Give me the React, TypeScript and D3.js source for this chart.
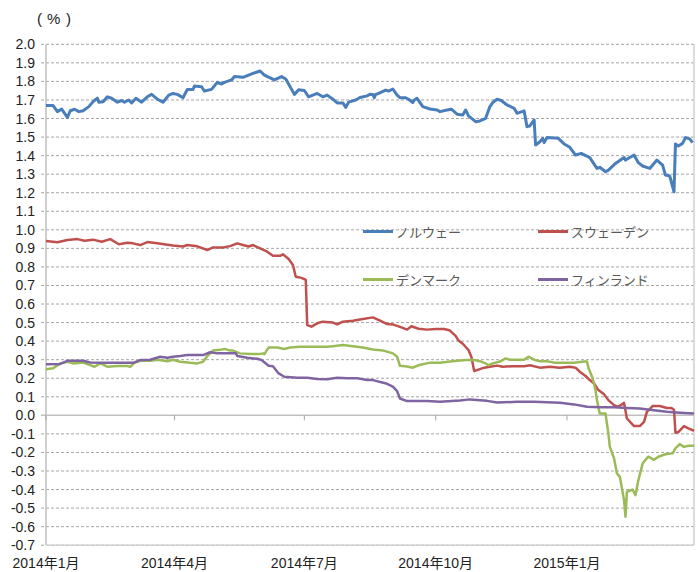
import React from "react";
import * as d3 from "d3";

// Day offsets from 2014-01-01 and yield values (%)
const norway: [number, number][] = [
  [0,1.67],[5,1.67],[8,1.637],[11,1.651],[15,1.606],[17,1.642],[20,1.65],[23,1.637],[26,1.642],[30,1.664],
  [33,1.691],[36,1.71],[37,1.688],[40,1.69],[43,1.717],[46,1.709],[50,1.688],[53,1.697],[55,1.688],[58,1.70],
  [60,1.684],[63,1.709],[67,1.688],[71,1.717],[74,1.73],[78,1.704],[82,1.688],[86,1.726],[89,1.735],[92,1.73],
  [96,1.712],[99,1.757],[103,1.757],[104,1.775],[109,1.771],[111,1.748],[116,1.757],[120,1.795],[123,1.786],[125,1.795],
  [130,1.808],[132,1.826],[138,1.822],[142,1.834],[145,1.843],[150,1.856],[153,1.834],[160,1.808],[165,1.826],[168,1.813],
  [174,1.73],[177,1.755],[181,1.751],[184,1.717],[190,1.735],[194,1.717],[197,1.726],[201,1.704],[204,1.684],[208,1.684],
  [210,1.66],[212,1.688],[217,1.70],[220,1.713],[225,1.722],[227,1.731],[229,1.73],[230,1.712],[231,1.73],[233,1.735],
  [238,1.753],[240,1.748],[243,1.759],[246,1.726],[248,1.712],[252,1.712],[254,1.704],[257,1.686],[258,1.70],[260,1.709],
  [264,1.664],[269,1.651],[274,1.646],[276,1.637],[281,1.646],[284,1.65],[288,1.623],[292,1.619],[294,1.646],[296,1.614],
  [301,1.583],[304,1.587],[308,1.601],[311,1.664],[313,1.686],[316,1.704],[319,1.697],[323,1.673],[328,1.655],[330,1.628],
  [335,1.641],[337,1.556],[339,1.56],[342,1.592],[343,1.457],[346,1.475],[348,1.493],[349,1.47],[351,1.498],[359,1.493],
  [363,1.463],[367,1.445],[371,1.403],[375,1.412],[381,1.389],[386,1.331],[388,1.337],[392,1.313],[394,1.322],[399,1.358],
  [405,1.39],[406,1.376],[412,1.403],[415,1.362],[418,1.344],[423,1.331],[428,1.376],[432,1.349],[434,1.295],[437,1.29],
  [440,1.205],[441,1.462],[443,1.452],[446,1.466],[448,1.497],[451,1.49],[453,1.47],
];

const sweden: [number, number][] = [
  [0,0.94],[8,0.933],[15,0.945],[22,0.95],[27,0.941],[33,0.947],[39,0.936],[45,0.95],[51,0.922],[57,0.93],
  [61,0.927],[66,0.918],[71,0.934],[78,0.928],[85,0.92],[89,0.915],[96,0.91],[99,0.918],[106,0.911],[113,0.891],
  [117,0.905],[124,0.905],[129,0.912],[134,0.927],[138,0.918],[142,0.91],[145,0.918],[150,0.90],[155,0.882],[159,0.86],
  [164,0.86],[166,0.868],[170,0.843],[173,0.81],[175,0.747],[179,0.741],[182,0.73],[183,0.487],[186,0.478],[190,0.496],
  [194,0.505],[201,0.50],[204,0.49],[208,0.505],[215,0.51],[220,0.517],[229,0.528],[234,0.51],[239,0.492],[243,0.49],
  [249,0.474],[253,0.462],[256,0.48],[261,0.467],[267,0.462],[273,0.465],[279,0.465],[283,0.457],[287,0.428],[289,0.403],
  [292,0.386],[296,0.352],[298,0.316],[300,0.239],[302,0.244],[307,0.257],[311,0.262],[316,0.268],[320,0.262],[327,0.265],
  [335,0.265],[339,0.27],[346,0.257],[353,0.262],[360,0.257],[367,0.262],[371,0.257],[374,0.235],[378,0.212],[381,0.19],
  [384,0.172],[387,0.136],[391,0.113],[394,0.082],[398,0.055],[401,0.046],[405,0.067],[407,-0.017],[412,-0.058],[416,-0.058],
  [419,-0.035],[421,0.019],[425,0.05],[430,0.05],[435,0.04],[438,0.04],[440,0.03],[441,-0.094],[443,-0.09],[447,-0.058],
  [450,-0.07],[454,-0.083],
];

const denmark: [number, number][] = [
  [0,0.248],[5,0.254],[10,0.28],[15,0.289],[19,0.28],[26,0.285],[31,0.271],[34,0.262],[38,0.28],[43,0.262],
  [50,0.266],[57,0.266],[59,0.262],[62,0.283],[66,0.294],[73,0.294],[78,0.30],[85,0.292],[89,0.30],[94,0.289],
  [101,0.283],[106,0.28],[110,0.289],[113,0.32],[117,0.349],[122,0.353],[125,0.358],[129,0.349],[131,0.349],[136,0.334],
  [143,0.33],[149,0.33],[152,0.334],[153,0.33],[156,0.366],[162,0.366],[167,0.358],[171,0.366],[178,0.37],[189,0.37],
  [197,0.37],[201,0.373],[208,0.379],[215,0.373],[222,0.366],[229,0.355],[236,0.35],[243,0.334],[246,0.316],[248,0.267],
  [253,0.263],[257,0.257],[261,0.27],[269,0.284],[276,0.284],[283,0.29],[290,0.295],[295,0.298],[300,0.298],[304,0.292],
  [308,0.28],[310,0.27],[313,0.28],[318,0.29],[322,0.307],[325,0.30],[330,0.30],[335,0.30],[338,0.316],[342,0.30],
  [346,0.292],[351,0.292],[356,0.284],[363,0.284],[370,0.284],[377,0.29],[379,0.29],[380,0.256],[383,0.20],[385,0.136],
  [386,0.082],[388,0.01],[392,0.01],[394,-0.097],[395,-0.169],[398,-0.232],[400,-0.313],[402,-0.33],[405,-0.457],[406,-0.547],
  [407,-0.412],[411,-0.40],[413,-0.43],[415,-0.35],[418,-0.26],[420,-0.24],[422,-0.223],[426,-0.24],[429,-0.223],[434,-0.21],
  [439,-0.205],[441,-0.178],[444,-0.155],[447,-0.17],[450,-0.164],[454,-0.164],
];

const finland: [number, number][] = [
  [0,0.275],[10,0.277],[15,0.294],[26,0.294],[31,0.285],[38,0.283],[50,0.283],[61,0.283],[66,0.298],[73,0.30],
  [80,0.316],[85,0.31],[89,0.316],[94,0.32],[99,0.325],[110,0.325],[115,0.34],[120,0.334],[127,0.334],[133,0.334],
  [134,0.32],[141,0.31],[148,0.305],[151,0.298],[156,0.267],[159,0.265],[163,0.226],[167,0.208],[176,0.202],[183,0.202],
  [190,0.196],[197,0.195],[204,0.203],[211,0.20],[218,0.20],[225,0.19],[229,0.19],[239,0.17],[243,0.155],[246,0.13],
  [248,0.091],[253,0.077],[267,0.077],[276,0.073],[290,0.08],[297,0.086],[309,0.078],[316,0.069],[330,0.073],[342,0.073],
  [360,0.068],[370,0.059],[379,0.046],[388,0.044],[398,0.043],[407,0.04],[416,0.037],[426,0.028],[435,0.019],[444,0.014],
  [454,0.01],
];

const seriesNames = ["ノルウェー", "スウェーデン", "デンマーク", "フィンランド"];
const seriesColors = ["#4a7ebb", "#c0504d", "#9bbb59", "#8064a2"];
const xTickLabels = ["2014年1月", "2014年4月", "2014年7月", "2014年10月", "2015年1月"];
const xTickDates = ["2014-01-01", "2014-04-01", "2014-07-01", "2014-10-01", "2015-01-01"];
const yTicks = d3.range(-7, 21).map((v) => v / 10);

const W = 698, H = 572;
const left = 46, right = 694, top = 44.3, bottom = 545.2;
const start = new Date(2014, 0, 1);
const toDate = (d: number) => d3.timeDay.offset(start, d);
const parse = d3.timeParse("%Y-%m-%d");

export default function App() {
  const x = d3.scaleTime().domain([start, toDate(454)]).range([left, right]);
  const y = d3.scaleLinear().domain([-0.7, 2.0]).range([bottom, top]);
  const line = d3.line<[number, number]>().x((p) => x(toDate(p[0]))).y((p) => y(p[1]));
  const data = [norway, sweden, denmark, finland];
  const font = "'Liberation Sans', Arial, 'Noto Sans CJK JP', sans-serif";
  const legendPos = [
    [363, 231.5], [538, 231.5], [363, 279.5], [538, 279.5],
  ];
  return (
    <svg width={W} height={H} style={{ position: "absolute", left: 0, top: 0, background: "#fff" }} fontFamily={font}>
      <text y={24} fontSize={15} fill="#222">
        <tspan x={37}>(</tspan>
        <tspan x={47}>%</tspan>
        <tspan x={66}>)</tspan>
      </text>
      {yTicks.map((t) => (
        <g key={t}>
          {Math.abs(t) > 1e-9 && (
            <line x1={left - 5} x2={right} y1={y(t)} y2={y(t)} stroke="#a6a6a6" strokeWidth={1} strokeDasharray="3,2" />
          )}
          <text x={35} y={y(t) + 5} fontSize={14} textAnchor="end" fill="#222">{t.toFixed(1)}</text>
        </g>
      ))}
      <line x1={left} x2={left} y1={top} y2={bottom} stroke="#bfbfbf" strokeWidth={1.5} />
      <line x1={right} x2={right} y1={top} y2={bottom} stroke="#d0d0d0" strokeWidth={1.5} />
      <line x1={left} x2={right} y1={bottom} y2={bottom} stroke="#d0d0d0" strokeWidth={1.5} />
      <line x1={left - 5} x2={right} y1={y(0)} y2={y(0)} stroke="#bfbfbf" strokeWidth={1.5} />
      {xTickDates.map((d, i) => {
        const xx = x(parse(d) as Date);
        return (
          <g key={d}>
            <line x1={xx} x2={xx} y1={y(0)} y2={y(0) + 5} stroke="#a6a6a6" strokeWidth={1} />
            <text x={xx} y={568} fontSize={14} textAnchor="middle" fill="#222">{xTickLabels[i]}</text>
          </g>
        );
      })}
      {data.map((s, i) => (
        <path key={i} d={line(s) || ""} fill="none" stroke={seriesColors[i]} strokeWidth={i === 0 ? 3 : 2.5} strokeLinejoin="round" />
      ))}
      {seriesNames.map((n, i) => (
        <g key={n}>
          <line x1={legendPos[i][0]} x2={legendPos[i][0] + 30} y1={legendPos[i][1]} y2={legendPos[i][1]} stroke={seriesColors[i]} strokeWidth={3} />
          <text x={legendPos[i][0] + 33} y={legendPos[i][1] + 5} fontSize={13} fill="#595959" fontFamily="'Noto Sans CJK JP', sans-serif">{n}</text>
        </g>
      ))}
    </svg>
  );
}
